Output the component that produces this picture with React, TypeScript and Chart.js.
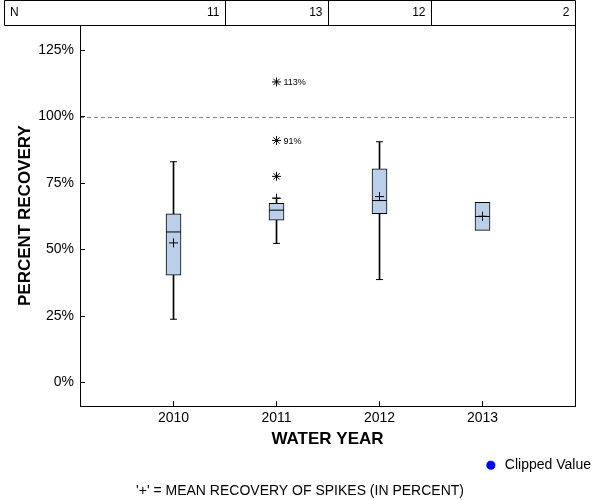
import React, { useEffect, useRef } from 'react';
import { Chart, registerables } from 'chart.js';

Chart.register(...registerables);

const years = [2010, 2011, 2012, 2013];
const nCounts = ['11', '13', '12', '2'];
const q1 = [40.4, 61.0, 63.5, 57.2];
const medians = [56.6, 64.8, 68.4, 62.4];
const q3 = [63.4, 67.4, 80.3, 67.7];
const whiskerLow: (number | null)[] = [23.8, 52.3, 38.7, null];
const whiskerHigh: (number | null)[] = [83.0, 69.3, 90.5, null];
const means = [52.5, 69.3, 69.9, 62.5];
const outlierYears = [2011, 2011, 2011];
const outlierValues = [113, 91, 77.5];
const outlierLabels = ['113%', '91%', ''];
const yTicks = [0, 25, 50, 75, 100, 125];
const xTicks = [2010, 2011, 2012, 2013];
const refLine = 100;

const FONT = "'Liberation Sans', Arial, Helvetica, sans-serif";
const BOX_FILL = '#BAD0E8';

const customPlugin = {
  id: 'customDecor',
  beforeDatasetsDraw(chart: any) {
    const { ctx, chartArea: a, scales } = chart;
    const py = Math.round(scales.y.getPixelForValue(refLine)) + 0.5;
    ctx.save();
    ctx.strokeStyle = '#808080';
    ctx.lineWidth = 1;
    ctx.setLineDash([4, 3]);
    ctx.beginPath();
    ctx.moveTo(a.left, py);
    ctx.lineTo(a.right, py);
    ctx.stroke();
    ctx.restore();
  },
  afterDatasetsDraw(chart: any) {
    const { ctx, scales } = chart;
    ctx.save();
    ctx.fillStyle = '#000';
    ctx.font = `9px ${FONT}`;
    ctx.textAlign = 'left';
    ctx.textBaseline = 'middle';
    outlierValues.forEach((v, i) => {
      if (!outlierLabels[i]) return;
      const px = scales.x.getPixelForValue(outlierYears[i]);
      const py = scales.y.getPixelForValue(v);
      ctx.fillText(outlierLabels[i], px + 7, py + 1);
    });
    ctx.restore();
  },
  afterDraw(chart: any) {
    const { ctx, chartArea: a, scales } = chart;
    ctx.save();
    ctx.strokeStyle = '#000';
    ctx.lineWidth = 1;
    // plot frame
    ctx.strokeRect(Math.round(a.left) + 0.5, Math.round(a.top) + 0.5, Math.round(a.right - a.left), Math.round(a.bottom - a.top));
    // N table
    const top = 0.5;
    const bottom = Math.round(a.top) + 0.5;
    const left = 4.5;
    const right = Math.round(a.right) + 0.5;
    ctx.beginPath();
    ctx.moveTo(left, top);
    ctx.lineTo(right, top);
    ctx.lineTo(right, bottom);
    ctx.lineTo(left, bottom);
    ctx.closePath();
    ctx.stroke();
    const bounds: number[] = [];
    for (let i = 0; i < years.length - 1; i++) {
      const bx = Math.round(scales.x.getPixelForValue((years[i] + years[i + 1]) / 2)) + 0.5;
      bounds.push(bx);
      ctx.beginPath();
      ctx.moveTo(bx, top);
      ctx.lineTo(bx, bottom);
      ctx.stroke();
    }
    bounds.push(right);
    ctx.fillStyle = '#000';
    ctx.font = `12px ${FONT}`;
    ctx.textBaseline = 'middle';
    ctx.textAlign = 'left';
    ctx.fillText('N', 10, 13);
    ctx.textAlign = 'right';
    nCounts.forEach((n, i) => {
      ctx.fillText(n, bounds[i] - 6, 13);
    });
    ctx.restore();
  },
};

export default function App() {
  const canvasRef = useRef<HTMLCanvasElement | null>(null);

  useEffect(() => {
    const canvas = canvasRef.current;
    if (!canvas) return;

    const boxData = years.map((x, i) => ({ x, y: [q1[i], q3[i]] }));
    const lowWhisk = years
      .map((x, i) => (whiskerLow[i] == null ? null : { x, y: [whiskerLow[i] as number, q1[i]] }))
      .filter(Boolean);
    const highWhisk = years
      .map((x, i) => (whiskerHigh[i] == null ? null : { x, y: [q3[i], whiskerHigh[i] as number] }))
      .filter(Boolean);
    const caps = [
      ...years.map((x, i) => (whiskerLow[i] == null ? null : { x, y: whiskerLow[i] })),
      ...years.map((x, i) => (whiskerHigh[i] == null ? null : { x, y: whiskerHigh[i] })),
    ].filter(Boolean);

    const chart = new Chart(canvas, {
      type: 'bar',
      data: {
        datasets: [
          {
            type: 'bar',
            label: 'Box',
            data: boxData as any,
            backgroundColor: BOX_FILL,
            borderColor: '#000',
            borderWidth: 1,
            borderSkipped: false,
            barThickness: 15,
            grouped: false,
            yAxisID: 'y',
            xAxisID: 'x',
            order: 5,
          } as any,
          {
            type: 'bar',
            label: 'WhiskerLow',
            data: lowWhisk as any,
            backgroundColor: '#000',
            borderWidth: 0,
            barThickness: 1,
            grouped: false,
            yAxisID: 'y',
            xAxisID: 'x',
            order: 6,
          } as any,
          {
            type: 'bar',
            label: 'WhiskerHigh',
            data: highWhisk as any,
            backgroundColor: '#000',
            borderWidth: 0,
            barThickness: 1,
            grouped: false,
            yAxisID: 'y',
            xAxisID: 'x',
            order: 6,
          } as any,
          {
            type: 'scatter',
            label: 'Caps',
            data: caps as any,
            pointStyle: 'line',
            pointRadius: 3.5,
            borderColor: '#000',
            backgroundColor: '#000',
            borderWidth: 1,
            yAxisID: 'y',
            xAxisID: 'x',
            order: 1,
          } as any,
          {
            type: 'scatter',
            label: 'Median',
            data: years.map((x, i) => ({ x, y: medians[i] })),
            pointStyle: 'line',
            pointRadius: 7.5,
            borderColor: '#000',
            backgroundColor: '#000',
            borderWidth: 1,
            yAxisID: 'y',
            xAxisID: 'x',
            order: 1,
          } as any,
          {
            type: 'scatter',
            label: 'Mean',
            data: years.map((x, i) => ({ x, y: means[i] })),
            pointStyle: 'cross',
            pointRadius: 4.5,
            borderColor: '#000',
            backgroundColor: '#000',
            borderWidth: 1,
            yAxisID: 'y',
            xAxisID: 'x',
            order: 0,
          } as any,
          {
            type: 'scatter',
            label: 'Outlier',
            data: outlierYears.map((x, i) => ({ x, y: outlierValues[i] })),
            pointStyle: 'star',
            pointRadius: 4.5,
            borderColor: '#000',
            backgroundColor: '#000',
            borderWidth: 1,
            yAxisID: 'y',
            xAxisID: 'x',
            order: 0,
          } as any,
          {
            type: 'scatter',
            label: 'Clipped Value',
            data: [],
            pointStyle: 'circle',
            backgroundColor: '#0000ff',
            borderColor: '#0000ff',
            yAxisID: 'y',
            xAxisID: 'x',
          } as any,
        ],
      },
      options: {
        responsive: false,
        animation: false,
        events: [],
        layout: { padding: { top: 25, left: 0, right: 0, bottom: 0 } },
        plugins: {
          tooltip: { enabled: false },
          legend: {
            display: true,
            position: 'bottom',
            align: 'end',
            labels: {
              filter: (item: any) => item.text === 'Clipped Value',
              usePointStyle: true,
              boxWidth: 16,
              boxHeight: 5.7,
              padding: 9,
              color: '#000',
              font: { family: FONT, size: 14 },
            },
          },
          title: {
            display: true,
            position: 'bottom',
            text: "'+' = MEAN RECOVERY OF SPIKES (IN PERCENT)",
            color: '#000',
            font: { family: FONT, size: 14, weight: 'normal' },
            padding: { top: 1, bottom: 0 },
          },
        },
        scales: {
          x: {
            type: 'linear',
            position: 'bottom',
            min: 2009.092,
            max: 2013.898,
            offset: false,
            afterBuildTicks: (s: any) => {
              s.ticks = xTicks.map((v) => ({ value: v }));
            },
            afterFit: (s: any) => {
              s.height = 43;
            },
            ticks: {
              callback: (v: any) => String(v),
              color: '#000',
              font: { family: FONT, size: 14 },
              padding: 9,
              maxRotation: 0,
              autoSkip: false,
            },
            grid: {
              offset: false,
              drawOnChartArea: false,
              drawTicks: true,
              tickLength: -5,
              color: '#000',
            },
            border: { display: true, color: '#000', width: 1 },
            title: {
              display: true,
              text: 'WATER YEAR',
              color: '#000',
              font: { family: FONT, size: 17, weight: 'bold' },
              padding: { top: 0, bottom: 0 },
            },
          } as any,
          y: {
            type: 'linear',
            position: 'left',
            min: -8.9,
            max: 134.4,
            afterBuildTicks: (s: any) => {
              s.ticks = yTicks.map((v) => ({ value: v }));
            },
            afterFit: (s: any) => {
              s.width = 80;
            },
            ticks: {
              callback: (v: any) => v + '%',
              color: '#000',
              font: { family: FONT, size: 14 },
              padding: 11,
            },
            grid: {
              drawOnChartArea: false,
              drawTicks: true,
              tickLength: -5,
              color: '#000',
            },
            border: { display: true, color: '#000', width: 1 },
            title: {
              display: true,
              text: 'PERCENT RECOVERY',
              color: '#000',
              font: { family: FONT, size: 17, weight: 'bold' },
              padding: { top: 15, bottom: 0 },
            },
          } as any,
          y2: {
            type: 'linear',
            position: 'right',
            display: true,
            afterFit: (s: any) => {
              s.width = 25;
            },
            ticks: { display: false },
            grid: { display: false, drawTicks: false },
            border: { display: false },
          } as any,
        },
      },
      plugins: [customPlugin],
    } as any);

    return () => {
      chart.destroy();
    };
  }, []);

  return (
    <div style={{ position: 'absolute', left: 0, top: 0, width: 600, height: 500, background: '#fff' }}>
      <canvas ref={canvasRef} width={600} height={500} style={{ display: 'block', width: 600, height: 500 }} />
    </div>
  );
}
